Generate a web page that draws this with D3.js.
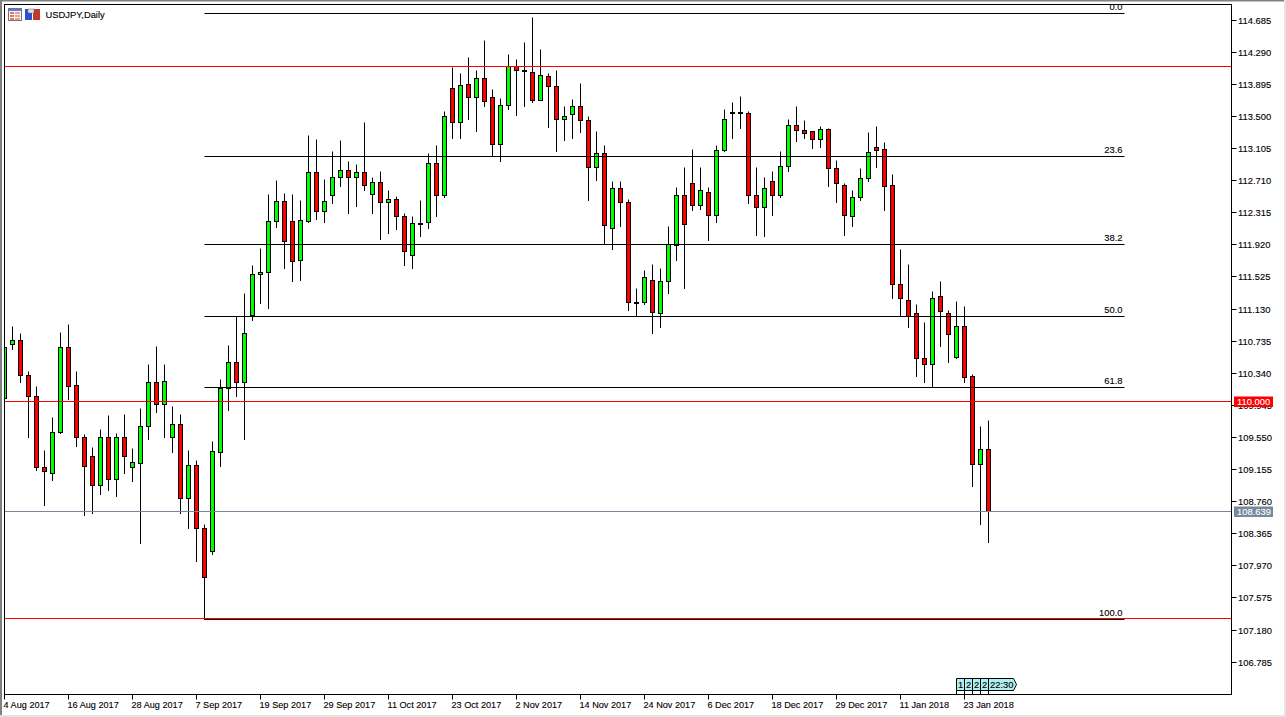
<!DOCTYPE html>
<html>
<head>
<meta charset="utf-8">
<title>USDJPY,Daily</title>
<script src="https://cdn.jsdelivr.net/npm/d3@7"></script>
<style>
html,body{margin:0;padding:0;background:#fff;overflow:hidden}
svg{display:block}
text{font-family:"Liberation Sans",Arial,sans-serif;font-size:9.4px;fill:#000;stroke:#000;stroke-width:0.12px}
</style>
</head>
<body>
<div id="chart"></div>
<script>
const title = "USDJPY,Daily";
const opens = [110.026,110.696,110.745,110.314,110.056,109.182,109.108,109.613,110.659,110.191,109.551,109.317,108.961,109.551,109.034,109.551,109.182,109.232,109.687,110.228,109.958,109.551,109.711,108.800,109.207,108.431,108.148,109.366,110.154,110.474,110.228,111.048,111.558,111.582,112.210,112.456,112.210,111.730,112.210,112.813,112.333,112.530,112.751,112.838,112.751,112.813,112.542,112.690,112.444,112.481,112.271,111.791,112.185,112.198,112.924,112.530,113.847,113.428,113.896,113.736,113.970,113.736,113.157,113.638,114.118,114.070,114.043,113.699,113.994,113.871,113.465,113.527,113.625,113.453,112.874,113.047,112.124,112.616,112.444,111.213,111.213,111.484,111.078,111.471,111.915,112.530,112.678,112.407,112.567,112.284,113.084,113.543,113.543,113.539,112.530,112.382,112.702,112.530,112.887,113.391,113.330,113.317,113.219,113.342,112.862,112.653,112.271,112.505,112.739,113.120,113.096,112.653,111.434,111.238,111.078,110.524,110.450,111.287,111.078,110.536,110.917,110.302,109.219,109.403];
const highs = [110.675,110.921,110.823,110.367,110.183,109.395,109.801,110.847,110.946,110.367,109.588,109.420,109.653,109.826,109.601,109.838,109.408,109.900,110.446,110.675,110.446,109.936,109.838,109.395,109.260,108.484,109.506,110.257,110.687,111.036,111.327,111.660,111.881,112.534,112.718,112.558,112.534,112.472,113.260,113.211,112.730,113.063,113.199,112.940,112.915,113.432,112.743,112.829,112.583,112.521,112.300,112.275,112.472,113.047,113.137,113.567,114.097,114.023,114.232,114.072,114.441,113.826,113.727,114.269,114.207,114.416,114.724,114.330,114.023,114.060,113.629,113.703,113.912,113.494,113.321,113.137,112.706,112.694,112.484,111.377,111.610,111.684,111.635,112.140,112.632,112.866,113.088,112.866,112.632,113.149,113.580,113.678,113.740,113.567,112.878,112.743,112.829,113.075,113.457,113.629,113.445,113.321,113.382,113.346,112.964,112.681,112.595,112.854,113.297,113.382,113.174,112.780,111.869,111.684,111.180,110.970,111.352,111.475,111.118,111.217,111.167,110.330,109.690,109.764];
const lows = [110.023,110.638,110.232,109.546,109.137,108.718,109.026,109.601,110.023,109.436,108.595,108.620,108.853,108.903,108.829,109.100,109.013,108.250,109.530,109.863,109.555,109.370,108.620,108.435,108.029,107.315,108.115,109.198,109.887,110.051,109.530,110.986,111.196,111.134,112.131,111.635,111.467,111.487,112.201,112.238,112.201,112.423,112.644,112.312,112.398,112.595,112.312,111.980,112.066,112.103,111.672,111.635,112.017,112.127,112.275,112.497,113.223,113.235,113.457,113.321,113.617,113.013,112.940,113.580,113.518,113.617,113.678,113.699,113.370,113.075,113.199,113.223,113.297,112.460,112.718,111.931,111.869,112.152,111.118,111.044,111.180,110.823,110.909,111.327,111.729,111.389,112.349,112.361,111.968,112.201,113.063,113.223,113.358,112.435,112.041,112.017,112.287,112.497,112.817,113.186,113.235,113.100,113.124,112.644,112.447,112.041,112.152,112.460,112.706,112.866,112.349,111.254,111.044,110.897,110.306,110.232,110.170,110.675,110.470,110.519,110.232,108.952,108.484,108.262];
const closes = [110.659,110.745,110.314,110.056,109.182,109.128,109.613,110.659,110.179,109.551,109.194,108.961,109.551,109.034,109.551,109.317,109.244,109.687,110.228,109.958,110.241,109.711,108.800,109.207,108.431,107.828,109.379,110.154,110.474,110.228,110.831,111.558,111.582,112.210,112.456,111.964,111.718,112.222,112.813,112.333,112.456,112.751,112.838,112.751,112.813,112.653,112.690,112.444,112.481,112.271,111.841,112.185,112.185,112.924,112.530,113.502,113.428,113.884,113.736,113.970,113.687,113.157,113.638,114.118,114.068,114.070,113.699,114.007,113.871,113.465,113.502,113.625,113.453,112.874,113.047,112.161,112.616,112.444,111.213,111.213,111.521,111.090,111.471,111.927,112.530,112.173,112.407,112.591,112.284,113.084,113.465,113.543,113.543,112.530,112.382,112.616,112.530,112.887,113.391,113.330,113.293,113.219,113.342,112.862,112.678,112.284,112.505,112.739,113.059,113.084,112.641,111.434,111.262,111.041,110.524,110.450,111.262,111.102,110.819,110.917,110.290,109.219,109.403,108.639];

const priceTicks = [114.685,114.290,113.895,113.500,113.105,112.710,112.315,111.920,111.525,111.130,110.735,110.340,109.945,109.550,109.155,108.760,108.365,107.970,107.575,107.180,106.785];
const dateLabels = ["4 Aug 2017","16 Aug 2017","28 Aug 2017","7 Sep 2017","19 Sep 2017","29 Sep 2017","11 Oct 2017","23 Oct 2017","2 Nov 2017","14 Nov 2017","24 Nov 2017","6 Dec 2017","18 Dec 2017","29 Dec 2017","11 Jan 2018","23 Jan 2018"];
const dateStep = 8;

const fibNames = ["0.0","23.6","38.2","50.0","61.8","100.0"];
const fibPrices = [114.770,113.009,111.927,111.041,110.167,107.311];
const fibFromBar = 25, fibToBar = 140;

const redLines = [114.118,110.000,107.323];
const lastPrice = 108.639;
const redTag = 110.000;

const sepBars = [119,120,121,122,123];
const sepLabels = ["1","2","2","2","22:30"];

const W = 1286, H = 717;
const L = 4, T = 4, R = 1231, B = 694;
const snap = v => Math.floor(v) + 0.5;
const snapR = v => Math.round(v) + 0.5;

const x = d3.scaleLinear().domain([0, 123]).range([4.5, 988.5]);
const y = d3.scaleLinear().domain([114.685, 106.785]).range([20.2, 662.1]);

const svg = d3.select("#chart").append("svg").attr("width", W).attr("height", H);
svg.append("rect").attr("width", W).attr("height", H).attr("fill", "#fff");

svg.append("defs").append("clipPath").attr("id", "plot")
  .append("rect").attr("x", L).attr("y", T).attr("width", R - L).attr("height", B - T);

const plot = svg.append("g").attr("clip-path", "url(#plot)");

// candles
const bars = d3.range(opens.length);
const candle = plot.append("g").selectAll("g").data(bars).join("g");
candle.append("line")
  .attr("x1", i => x(i)).attr("x2", i => x(i))
  .attr("y1", i => snap(y(highs[i]))).attr("y2", i => snap(y(lows[i])) + 0.5)
  .attr("stroke", "#000").attr("stroke-width", 1);
candle.append("rect")
  .attr("x", i => x(i) - 2).attr("width", 4)
  .attr("y", i => snap(y(Math.max(opens[i], closes[i]))))
  .attr("height", i => Math.max(1, snap(y(Math.min(opens[i], closes[i]))) - snap(y(Math.max(opens[i], closes[i])))))
  .attr("fill", i => closes[i] > opens[i] ? "#00ff00" : (closes[i] < opens[i] ? "#ff0000" : "#000"))
  .attr("stroke", "#000").attr("stroke-width", 1);

// horizontal price lines
plot.append("g").selectAll("line").data(redLines).join("line")
  .attr("x1", L).attr("x2", R).attr("y1", d => snapR(y(d))).attr("y2", d => snapR(y(d)))
  .attr("stroke", "#ff0000").attr("stroke-width", 1);
plot.append("line").attr("x1", L).attr("x2", R)
  .attr("y1", snapR(y(lastPrice))).attr("y2", snapR(y(lastPrice)))
  .attr("stroke", "#778899").attr("stroke-width", 1);

// fibonacci retracement
const fib = plot.append("g").selectAll("g").data(fibPrices).join("g");
fib.append("line")
  .attr("x1", x(fibFromBar)).attr("x2", x(fibToBar))
  .attr("y1", d => snap(y(d))).attr("y2", d => snap(y(d)))
  .attr("stroke", "#000").attr("stroke-width", 1);
fib.append("text")
  .attr("x", x(fibToBar) - 2).attr("y", d => snap(y(d)) - 3.5)
  .attr("text-anchor", "end").text((d, i) => fibNames[i]);

// period separators marker
const sep = svg.append("g");
sepBars.forEach((b, k) => {
  const x0 = x(b);
  const last = k === sepBars.length - 1;
  const w = last ? 28 : 8;
  const top = 678.5, bot = 690.5;
  const d = last
    ? `M${x0},${top}H${x0 + w - 3}L${x0 + w},${(top + bot) / 2}L${x0 + w - 3},${bot}H${x0}Z`
    : `M${x0},${top}H${x0 + w}V${bot}H${x0}Z`;
  sep.append("path").attr("d", d).attr("fill", "#afeeee").attr("stroke", "#000").attr("stroke-width", 1);
  sep.append("line").attr("x1", x0).attr("x2", x0).attr("y1", bot).attr("y2", B)
    .attr("stroke", "#000").attr("stroke-width", 1);
  sep.append("text").attr("x", x0 + 1.5).attr("y", 688).text(sepLabels[k]);
});

// frame
svg.append("rect").attr("x", L + 0.5).attr("y", T + 0.5).attr("width", R - L).attr("height", B - T)
  .attr("fill", "none").attr("stroke", "#000").attr("stroke-width", 1);

// price axis
const yAxis = d3.axisRight(y).tickValues(priceTicks).tickFormat(d3.format(".3f")).tickSize(5).tickPadding(1.5).offset(0);
const gy = svg.append("g").attr("transform", `translate(${R + 0.5},0)`).call(yAxis);
gy.select(".domain").remove();
gy.selectAll(".tick").attr("transform", d => `translate(0,${snap(y(d))})`);
gy.selectAll(".tick line").attr("stroke", "#000");
gy.selectAll(".tick text").attr("dy", "0.38em").style("font-size", "9.4px").style("font-family", '"Liberation Sans"');

// time axis
const xAxis = d3.axisBottom(x).tickValues(dateLabels.map((_, i) => i * dateStep))
  .tickFormat((d, i) => dateLabels[i]).tickSize(5).tickPadding(1).offset(0);
const gx = svg.append("g").attr("transform", `translate(0,${B + 0.5})`).call(xAxis);
gx.select(".domain").remove();
gx.selectAll(".tick line").attr("stroke", "#000");
gx.selectAll(".tick text").attr("text-anchor", "start").attr("x", -1).attr("y", 13).attr("dy", 0)
  .style("font-size", "9.15px").style("font-family", '"Liberation Sans"');

// price tags
function tag(price, fill) {
  const c = snapR(y(price));
  svg.append("rect").attr("x", 1234).attr("y", c - 5).attr("width", 39).attr("height", 10.5).attr("fill", fill);
  svg.append("text").attr("x", 1237).attr("y", c + 3.7).style("fill", "#fff").style("stroke", "#fff")
    .text(d3.format(".3f")(price));
}
tag(redTag, "#ff0000");
tag(lastPrice, "#778899");

// title and icons
const icon = svg.append("g");
icon.append("rect").attr("x", 8.5).attr("y", 8.5).attr("width", 13).attr("height", 12).attr("fill", "#f4f6fb").attr("stroke", "#6f7583");
icon.append("rect").attr("x", 9).attr("y", 9).attr("width", 12).attr("height", 2).attr("fill", "#5b7fd6");
[12, 15, 18].forEach(v => {
  icon.append("rect").attr("x", 10).attr("y", v).attr("width", 4).attr("height", 2).attr("fill", "#e8785a");
  icon.append("rect").attr("x", 15).attr("y", v).attr("width", 5).attr("height", 2).attr("fill", "#e8a08a");
});
icon.append("rect").attr("x", 25).attr("y", 9).attr("width", 7).attr("height", 11).attr("fill", "#2f4fd0");
icon.append("rect").attr("x", 33).attr("y", 9).attr("width", 7).attr("height", 11).attr("fill", "#c0392b");
icon.append("rect").attr("x", 28).attr("y", 9).attr("width", 6).attr("height", 4).attr("fill", "#dfe3ea").attr("stroke", "#666").attr("stroke-width", 0.5);
svg.append("text").attr("x", 45.5).attr("y", 18).text(title);

// window edges
svg.append("rect").attr("x", 0).attr("y", 0).attr("width", W).attr("height", 1.5).attr("fill", "#808080");
svg.append("rect").attr("x", 0).attr("y", 0).attr("width", 2).attr("height", H).attr("fill", "#808080");
svg.append("rect").attr("x", 1284).attr("y", 0).attr("width", 2).attr("height", H).attr("fill", "#e4e4e4");
svg.append("rect").attr("x", 0).attr("y", 715).attr("width", W).attr("height", 2).attr("fill", "#e4e4e4");
</script>
</body>
</html>
